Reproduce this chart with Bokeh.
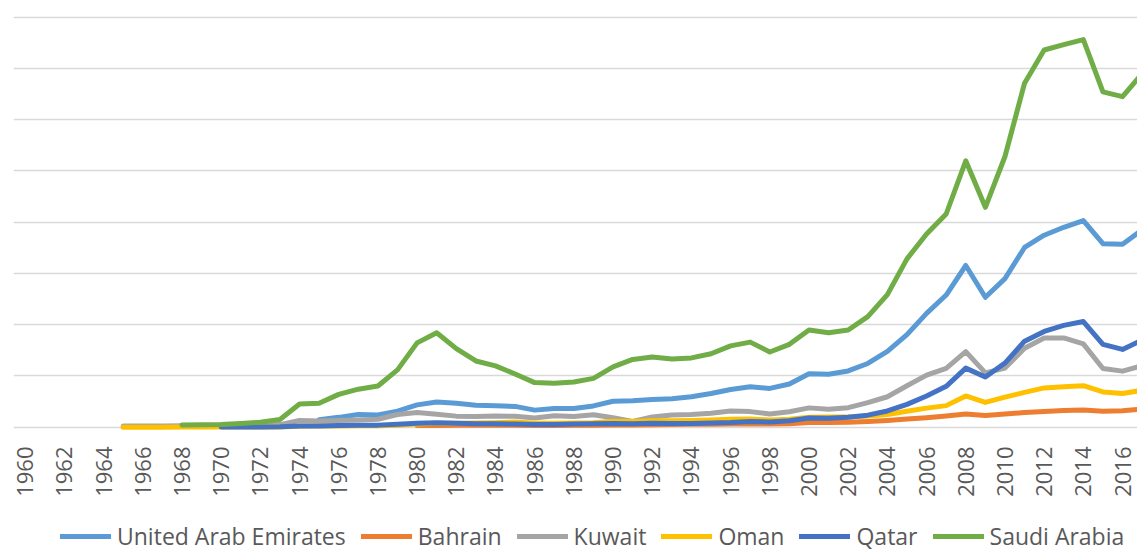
from bokeh.plotting import figure
from bokeh.models import FixedTicker, Range1d, Legend, LegendItem
from bokeh.layouts import column
from bokeh.embed import file_html
from bokeh.resources import INLINE

# GDP, current US$ billions
years_uae = list(range(1975, 2018))
uae = [14.7, 19.2, 24.9, 23.8, 31.2, 43.6, 49.3, 46.6, 42.8, 41.8, 40.6, 33.3, 36.3, 36.3, 41.5,
       50.7, 51.6, 54.2, 55.6, 59.3, 65.7, 73.6, 78.8, 75.7, 84.4, 104.3, 103.3, 109.8, 124.3,
       147.8, 180.6, 222.1, 257.9, 315.5, 253.5, 289.8, 350.7, 374.6, 390.1, 403.1, 358.1, 357.0, 385.0]

years_bhr = list(range(1980, 2018))
bahrain = [3.07, 3.46, 3.79, 3.97, 3.94, 3.72, 3.07, 3.26, 3.62, 3.85, 4.23, 4.35, 4.6, 5.2, 5.56,
           5.85, 6.1, 6.35, 6.18, 6.62, 9.06, 8.98, 9.63, 11.07, 13.15, 15.97, 18.5, 21.73, 25.71,
           22.94, 25.71, 28.78, 30.75, 32.54, 33.39, 31.13, 32.18, 35.3]

years_kwt = list(range(1965, 2018))
kuwait = [2.1, 2.4, 2.5, 2.7, 2.8, 2.9, 3.9, 4.5, 5.1, 13.0, 12.0, 13.1, 14.1, 15.5, 24.8, 28.6,
          25.1, 21.6, 20.9, 21.7, 21.4, 17.9, 22.4, 20.7, 24.3, 18.4, 11.0, 19.9, 23.9, 24.8, 27.2,
          31.5, 30.4, 25.9, 30.1, 37.7, 34.9, 38.1, 47.9, 59.4, 80.8, 101.6, 114.6, 147.4, 105.9,
          115.4, 154.0, 174.1, 174.2, 162.6, 114.6, 109.4, 120.0]

years_omn = list(range(1965, 2018))
oman = [0.06, 0.08, 0.1, 0.2, 0.26, 0.26, 0.29, 0.35, 0.43, 1.64, 2.1, 2.55, 2.75, 2.75, 3.86, 6.34,
        7.48, 7.76, 8.09, 8.75, 10.07, 7.59, 7.82, 8.02, 8.67, 11.69, 11.34, 12.45, 12.49, 12.92,
        13.8, 15.28, 15.84, 14.08, 15.71, 19.51, 19.8, 20.1, 21.6, 24.7, 31.1, 37.2, 42.1, 60.9,
        48.4, 58.6, 67.9, 76.7, 78.9, 81.0, 68.9, 65.9, 72.0]

years_qat = list(range(1970, 2018))
qatar = [0.3, 0.39, 0.5, 0.79, 2.4, 2.51, 3.34, 3.66, 4.04, 5.63, 7.83, 8.66, 7.6, 6.49, 6.55, 6.15,
         5.05, 5.44, 6.04, 6.49, 7.36, 6.88, 7.65, 7.16, 7.37, 8.14, 9.06, 11.3, 10.26, 12.39, 17.76,
         17.5, 19.4, 23.5, 31.7, 44.5, 60.9, 79.7, 115.3, 97.8, 125.1, 167.8, 186.8, 198.7, 206.2,
         161.7, 151.7, 170.0]

years_sau = list(range(1968, 2018))
saudi = [4.2, 4.6, 5.4, 7.2, 9.7, 15.0, 45.4, 46.8, 64.0, 74.2, 80.3, 111.9, 164.5, 184.3, 153.2,
         129.2, 119.6, 103.9, 87.0, 85.7, 88.3, 95.3, 117.6, 132.2, 137.1, 133.0, 135.2, 143.3, 158.7,
         166.0, 146.8, 161.7, 189.5, 184.1, 189.6, 215.8, 258.7, 328.5, 376.9, 416.0, 519.8, 429.1,
         528.2, 671.2, 736.0, 746.6, 756.4, 654.3, 644.9, 690.0]

series = [
    ("United Arab Emirates", years_uae, uae, "#5B9BD5"),
    ("Bahrain", years_bhr, bahrain, "#ED7D31"),
    ("Kuwait", years_kwt, kuwait, "#A5A5A5"),
    ("Oman", years_omn, oman, "#FFC000"),
    ("Qatar", years_qat, qatar, "#4472C4"),
    ("Saudi Arabia", years_sau, saudi, "#70AD47"),
]

tick_years = list(range(1960, 2017, 2))
grid_values = list(range(0, 801, 100))

FONT = "Open Sans"
TXT = "#595959"
LW = 5

# ---- main chart ----
p = figure(width=1137, height=500, output_backend="svg", toolbar_location=None,
           x_range=Range1d(1959.403, 2016.764), y_range=Range1d(-10.35, 832.6),
           min_border_left=13, min_border_right=0, min_border_top=0, min_border_bottom=68)
p.outline_line_color = None
p.background_fill_color = "white"
p.border_fill_color = "white"

for name, xs, ys, col in series:
    p.line(xs, ys, line_color=col, line_width=LW, line_join="round", line_cap="round")

p.yaxis.visible = False
p.ygrid.ticker = FixedTicker(ticks=grid_values)
p.ygrid.grid_line_color = "#D9D9D9"
p.ygrid.grid_line_width = 1.5
p.xgrid.visible = False

ax = p.xaxis[0]
ax.ticker = FixedTicker(ticks=tick_years)
ax.axis_line_color = None
ax.major_tick_line_color = None
ax.minor_tick_line_color = None
ax.major_tick_out = 0
ax.major_tick_in = 0
ax.major_label_standoff = 14
ax.major_label_orientation = 3.14159265 / 2
ax.major_label_text_font = FONT
ax.major_label_text_font_size = "22px"
ax.major_label_text_color = TXT

# ---- legend strip (series drawn out of view, only their legend entries show) ----
lp = figure(width=1137, height=52, output_backend="svg", toolbar_location=None,
            x_range=Range1d(1959.403, 2016.764), y_range=Range1d(-2000, -1000),
            x_axis_location=None, y_axis_location=None,
            min_border_left=13, min_border_right=0, min_border_top=0, min_border_bottom=0)
lp.outline_line_color = None
lp.background_fill_color = "white"
lp.border_fill_color = "white"
lp.xgrid.visible = False
lp.ygrid.visible = False

items = []
for name, xs, ys, col in series:
    r = lp.line(xs, ys, line_color=col, line_width=LW, line_join="round", line_cap="round")
    items.append(LegendItem(label=name, renderers=[r]))

lg = Legend(items=items, orientation="horizontal", location=(47, 0),
            border_line_color=None, background_fill_alpha=0, padding=0, margin=0,
            glyph_width=51, glyph_height=20, label_standoff=6, spacing=15,
            label_text_font=FONT, label_text_font_size="23px", label_text_color=TXT)
lp.add_layout(lg, "center")

layout = column(p, lp, spacing=0)
open("out.html", "w").write(file_html(layout, INLINE))
